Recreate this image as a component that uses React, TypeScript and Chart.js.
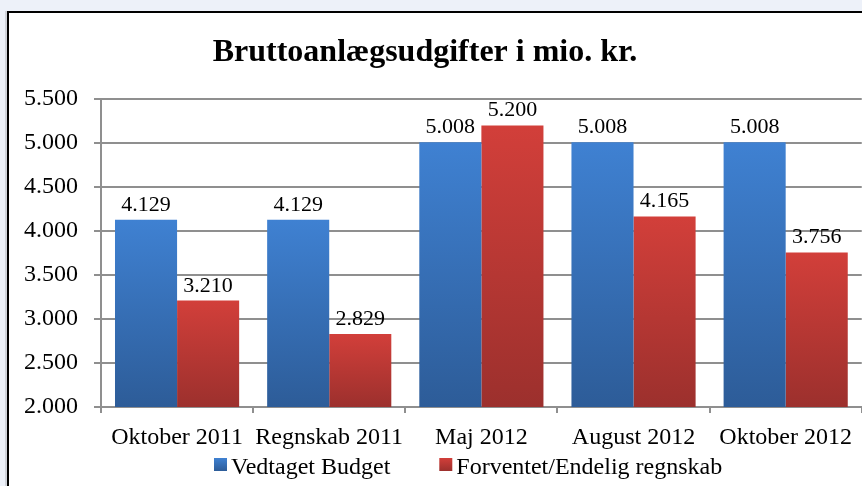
import React, { useEffect, useRef } from "react";
import { Chart, registerables } from "chart.js";

Chart.register(...registerables);

const categories = ["Oktober 2011", "Regnskab 2011", "Maj 2012", "August 2012", "Oktober 2012"];
const budgetValues = [4129, 4129, 5008, 5008, 5008];
const forecastValues = [3210, 2829, 5200, 4165, 3756];
const seriesNames = ["Vedtaget Budget", "Forventet/Endelig regnskab"];
const titleText = "Bruttoanlægsudgifter i mio. kr.";
const yMin = 2000;
const yMax = 5500;
const yStep = 500;

const FONT = "'Liberation Serif', 'Times New Roman', serif";
const blueStops = ["#3f81d2", "#2d5c98"];
const redStops = ["#d23f3a", "#9c302d"];

const fmt = (n: number) => String(n).replace(/\B(?=(\d{3})+(?!\d))/g, ".");

function barGradient(stops: string[]) {
  return (ctx: any) => {
    const chart = ctx.chart;
    const area = chart.chartArea;
    const ys = chart.scales?.y;
    if (!area || !ys || ctx.raw === undefined) return stops[0];
    const top = ys.getPixelForValue(ctx.raw);
    const g = chart.ctx.createLinearGradient(0, top, 0, area.bottom);
    g.addColorStop(0, stops[0]);
    g.addColorStop(1, stops[1]);
    return g;
  };
}

const decorPlugin = {
  id: "decor",
  beforeDraw(chart: any) {
    const c = chart.ctx;
    const w = chart.width;
    const h = chart.height;
    c.save();
    c.fillStyle = "#edf1f9";
    c.fillRect(0, 0, w, h);
    c.fillStyle = "rgba(0,0,0,0.12)";
    c.fillRect(5, 11, 3, h);
    c.fillStyle = "#ffffff";
    c.fillRect(8, 12, w, h);
    c.strokeStyle = "#000000";
    c.lineWidth = 2;
    c.strokeRect(8, 12, w + 10, h + 10);
    c.restore();
  },
  afterDraw(chart: any) {
    const c = chart.ctx;
    c.save();
    // title
    c.fillStyle = "#000";
    c.font = `bold 32px ${FONT}`;
    c.textAlign = "center";
    c.textBaseline = "alphabetic";
    c.fillText(titleText, 425, 61);

    // data labels
    c.font = `22px ${FONT}`;
    chart.data.datasets.forEach((ds: any, di: number) => {
      const meta = chart.getDatasetMeta(di);
      meta.data.forEach((el: any, i: number) => {
        c.fillText(fmt(ds.data[i]), el.x, el.y - 9);
      });
    });

    // legend
    c.font = `24px ${FONT}`;
    c.textAlign = "left";
    const stopsList = [blueStops, redStops];
    let x = 214;
    const boxTop = 458;
    seriesNames.forEach((name, i) => {
      const g = c.createLinearGradient(0, boxTop, 0, boxTop + 13);
      g.addColorStop(0, stopsList[i][0]);
      g.addColorStop(1, stopsList[i][1]);
      c.fillStyle = g;
      c.fillRect(x, boxTop, 13, 13);
      c.fillStyle = "#000";
      c.fillText(name, x + 17, 474);
      x += 17 + c.measureText(name).width + 49;
    });
    c.restore();
  },
};

export default function App() {
  const ref = useRef<HTMLCanvasElement>(null);
  useEffect(() => {
    document.body.style.margin = "0";
    const chart = new Chart(ref.current as HTMLCanvasElement, {
      type: "bar",
      data: {
        labels: categories,
        datasets: [
          {
            label: seriesNames[0],
            data: budgetValues,
            backgroundColor: barGradient(blueStops),
            borderWidth: 0,
          },
          {
            label: seriesNames[1],
            data: forecastValues,
            backgroundColor: barGradient(redStops),
            borderWidth: 0,
          },
        ],
      },
      options: {
        responsive: false,
        animation: false,
        events: [],
        layout: { padding: { top: 99, right: 0, bottom: 0, left: 0 } },
        plugins: {
          legend: { display: false },
          title: { display: false },
          tooltip: { enabled: false },
        },
        datasets: {
          bar: { categoryPercentage: 0.816, barPercentage: 1 },
        },
        scales: {
          x: {
            grid: {
              offset: true,
              drawOnChartArea: false,
              drawTicks: true,
              tickLength: 6,
              color: "#8f8f8f",
              lineWidth: 2,
            },
            border: { display: true, color: "#8f8f8f", width: 2 },
            ticks: {
              color: "#000",
              font: { family: FONT, size: 24 },
              padding: 10,
              maxRotation: 0,
              autoSkip: false,
            },
            afterFit: (s: any) => {
              s.height = 79;
            },
          },
          y: {
            min: yMin,
            max: yMax,
            grid: {
              color: "#8f8f8f",
              lineWidth: 2,
              tickLength: 7,
              drawTicks: true,
            },
            border: { display: true, color: "#8f8f8f", width: 2 },
            ticks: {
              stepSize: yStep,
              color: "#000",
              font: { family: FONT, size: 24 },
              padding: 16,
              callback: (v: any) => fmt(Number(v)),
            },
            afterFit: (s: any) => {
              s.width = 101;
            },
          },
        },
      },
      plugins: [decorPlugin],
    });
    return () => chart.destroy();
  }, []);
  return (
    <div style={{ position: "absolute", left: 0, top: 0, width: 862, height: 486 }}>
      <canvas ref={ref} width={862} height={486} style={{ display: "block" }} />
    </div>
  );
}
